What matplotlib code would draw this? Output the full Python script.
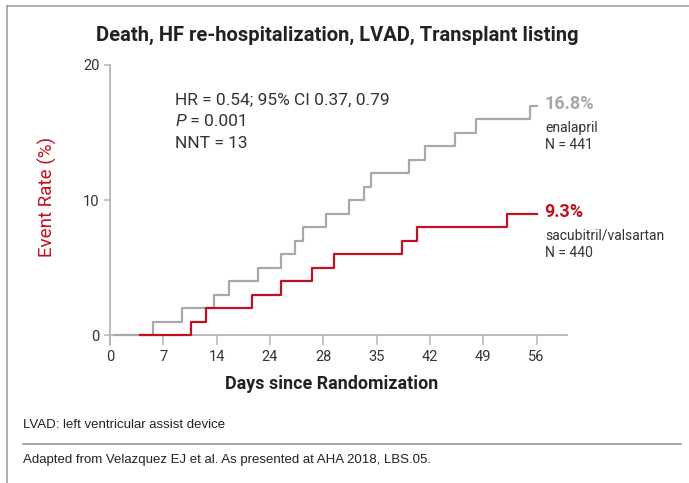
import matplotlib
matplotlib.use("Agg")
import matplotlib.pyplot as plt
from matplotlib.lines import Line2D

# Kaplan-Meier style step data
enal_days = [0.7, 5.7, 9.5, 13.6, 15.6, 19.4, 22.4, 24.3, 25.4, 28.4, 31.4,
             33.3, 34.3, 39.2, 41.3, 45.3, 48.1, 55.2, 56.1]
enal_rate = [0, 1, 2, 3, 4, 5, 6, 7, 8, 9, 10, 11, 12, 13, 14, 15, 16, 17, 17]
sv_days = [4.0, 10.7, 12.6, 18.7, 22.5, 26.5, 29.4, 38.4, 40.3, 52.1, 56.1]
sv_rate = [0, 1, 2, 3, 4, 5, 6, 7, 8, 9, 9]

xticks = [0, 7, 14, 21, 28, 35, 42, 49, 56]
xtick_labels = ["0", "7", "14", "24", "28", "35", "42", "49", "56"]
yticks = [0, 10, 20]

GRAY = "#a8a8a8"
RED = "#c3101e"
AXC = "#b4b4b4"
TXT = "#333333"
FONT = "Roboto"

W, H = 689, 483
fig = plt.figure(figsize=(W / 100, H / 100), dpi=100)


def fx(px):
    return px / W


def fy(py):
    return 1 - py / H


ax = fig.add_axes([fx(110), fy(345), fx(567) - fx(110), fy(65) - fy(345)])
ax.set_xlim(0, 60)
ax.set_ylim(-0.74, 20)

ax.step(enal_days, enal_rate, where="post", color=GRAY, lw=1.6, zorder=3)
ax.step(sv_days, sv_rate, where="post", color=RED, lw=1.6, zorder=4)

for s in ["top", "right"]:
    ax.spines[s].set_visible(False)
ax.spines["bottom"].set_position(("data", 0))
ax.spines["bottom"].set_color(AXC)
ax.spines["left"].set_color(AXC)
ax.spines["bottom"].set_linewidth(1.3)
ax.spines["left"].set_linewidth(1.3)

ax.set_xticks(xticks)
ax.set_xticklabels(xtick_labels)
ax.set_yticks(yticks)
ax.tick_params(axis="x", direction="out", length=7.5, width=1.1, color=AXC,
               pad=3, labelsize=10.5, labelcolor=TXT)
ax.tick_params(axis="y", direction="out", length=4.5, width=1.1, color=AXC,
               pad=3, labelsize=10.5, labelcolor=TXT)
for lab in ax.get_xticklabels() + ax.get_yticklabels():
    lab.set_family(FONT)

# titles and axis labels
fig.text(fx(337), fy(35), "Death, HF re-hospitalization, LVAD, Transplant listing",
         ha="center", va="center", fontsize=14.5, fontweight="bold",
         family=FONT, color="#222222")
fig.text(fx(332), fy(384), "Days since Randomization", ha="center", va="center",
         fontsize=12.9, fontweight="bold", family=FONT, color="#222222")
fig.text(fx(47), fy(197), "Event Rate (%)", ha="center", va="center",
         rotation=90, fontsize=13.5, family=FONT, color=RED)

# statistics block
fig.text(fx(175), fy(100), "HR = 0.54; 95% CI 0.37, 0.79", ha="left",
         va="center", fontsize=12.5, family=FONT, color=TXT)
p_txt = fig.text(fx(175), fy(122), "P", ha="left", va="center", fontsize=12.5,
                 family=FONT, style="italic", color=TXT)
ax.annotate(" = 0.001", xy=(1, 0), xycoords=p_txt, ha="left", va="bottom",
            fontsize=12.5, family=FONT, color=TXT, annotation_clip=False)
fig.text(fx(175), fy(144), "NNT = 13", ha="left", va="center", fontsize=12.5,
         family=FONT, color=TXT)

# end-of-line labels
fig.text(fx(544), fy(104), "16.8%", ha="left", va="center", fontsize=13,
         fontweight="bold", family=FONT, color=GRAY)
fig.text(fx(545), fy(128), "enalapril", ha="left", va="center", fontsize=10,
         family=FONT, color=TXT)
fig.text(fx(545), fy(145), "N = 441", ha="left", va="center", fontsize=10,
         family=FONT, color=TXT)
fig.text(fx(544), fy(212), "9.3%", ha="left", va="center", fontsize=13,
         fontweight="bold", family=FONT, color=RED)
fig.text(fx(545), fy(236), "sacubitril/valsartan", ha="left", va="center",
         fontsize=10, family=FONT, color=TXT)
fig.text(fx(545), fy(253), "N = 440", ha="left", va="center", fontsize=10,
         family=FONT, color=TXT)

# footnotes
foot = ["Liberation Sans Narrow", "Liberation Sans"]
fig.text(fx(23), fy(425), "LVAD: left ventricular assist device", ha="left",
         va="center", fontsize=9.5, family=foot, color="#222222")
fig.text(fx(23), fy(460), "Adapted from Velazquez EJ et al. As presented at AHA 2018, LBS.05.",
         ha="left", va="center", fontsize=9.5, family=foot, color="#222222")

# frame lines
fig.add_artist(Line2D([fx(7), fx(7)], [fy(6), fy(483)], color="#a0a0a0", lw=1.2))
fig.add_artist(Line2D([fx(7), fx(689)], [fy(6), fy(6)], color="#a0a0a0", lw=1.2))
fig.add_artist(Line2D([fx(23), fx(681)], [fy(444), fy(444)], color="#999999", lw=1.2))

fig.savefig("out.png", dpi=100)
